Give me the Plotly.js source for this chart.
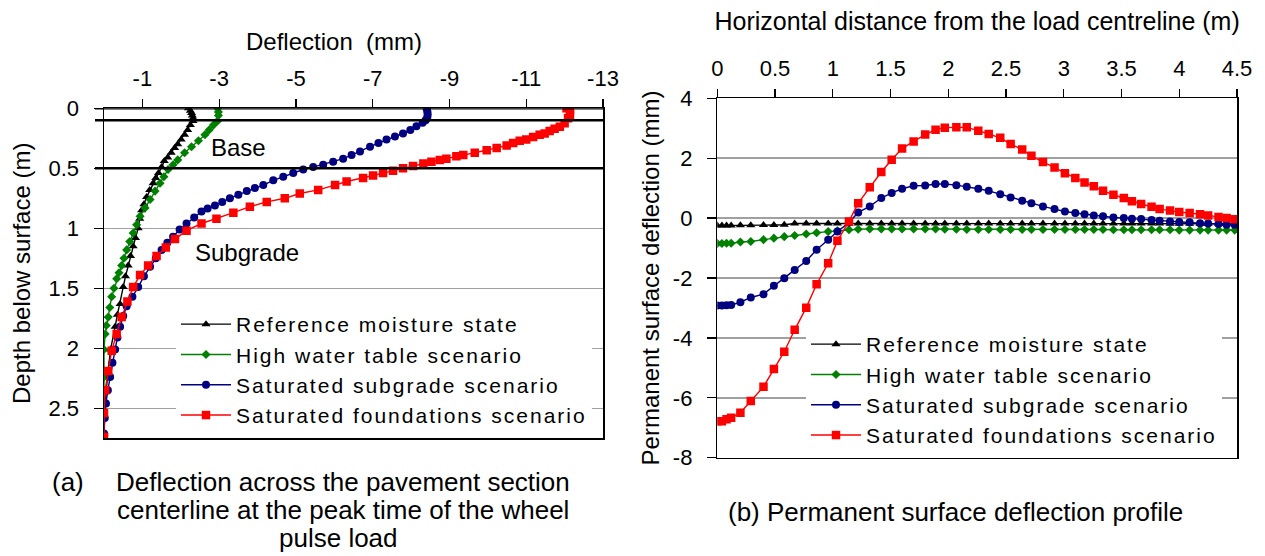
<!DOCTYPE html>
<html>
<head>
<meta charset="utf-8">
<script src="https://cdn.plot.ly/plotly-3.0.1.min.js"></script>
<style>
html,body{margin:0;padding:0;background:#fff;}
#chart{width:1265px;height:556px;}
text.legendtext{letter-spacing:2px !important;}
</style>
</head>
<body>
<div id="chart"></div>
<script>
// ---------- Series names ----------
const seriesNames = ["Reference moisture state", "High water table scenario", "Saturated subgrade scenario", "Saturated foundations scenario"];

// ---------- (a) Deflection vs depth ----------
const refDefl  = [-2.2,-2.25,-2.28,-2.3,-2.32,-2.32,-2.25,-2.18,-2.10,-2.01,-1.92,-1.84,-1.75,-1.66,-1.57,-1.50,-1.42,-1.35,-1.28,-1.19,-1.11,-1.04,-0.98,-0.93,-0.89,-0.82,-0.76,-0.69,-0.63,-0.56,-0.50,-0.42,-0.35,-0.29,-0.17,-0.09,-0.03,0];
const refDepth = [0,0.02,0.04,0.06,0.08,0.105,0.14,0.18,0.22,0.26,0.30,0.33,0.37,0.41,0.44,0.49,0.54,0.58,0.625,0.68,0.74,0.80,0.85,0.92,1.00,1.08,1.15,1.23,1.31,1.40,1.49,1.63,1.72,1.82,2.01,2.24,2.46,2.71];

const hwtDefl  = [-2.96,-2.98,-2.98,-2.96,-2.85,-2.74,-2.63,-2.46,-2.28,-2.10,-1.92,-1.80,-1.67,-1.56,-1.46,-1.33,-1.20,-1.07,-0.94,-0.85,-0.76,-0.67,-0.59,-0.52,-0.46,-0.39,-0.33,-0.26,-0.20,-0.15,-0.11,-0.06,-0.03,0,0,0,0];
const hwtDepth = [0,0.03,0.06,0.105,0.14,0.18,0.22,0.27,0.32,0.37,0.43,0.47,0.51,0.57,0.625,0.69,0.76,0.83,0.90,0.97,1.04,1.11,1.18,1.25,1.31,1.37,1.42,1.50,1.57,1.66,1.74,1.81,1.88,2.01,2.24,2.46,2.71];

const ssgDefl  = [-8.40,-8.42,-8.43,-8.43,-8.42,-8.38,-8.30,-8.14,-7.98,-7.79,-7.58,-7.36,-7.15,-6.93,-6.67,-6.45,-6.23,-5.97,-5.71,-5.45,-5.19,-4.93,-4.67,-4.41,-4.15,-3.93,-3.72,-3.50,-3.28,-3.08,-2.89,-2.70,-2.54,-2.35,-2.15,-1.97,-1.80,-1.65,-1.50,-1.35,-1.20,-1.04,-0.89,-0.74,-0.59,-0.50,-0.42,-0.35,-0.29,-0.22,-0.16,-0.10,-0.05,-0.02,0];
const ssgDepth = [0,0.02,0.04,0.06,0.08,0.10,0.12,0.15,0.18,0.21,0.235,0.26,0.29,0.32,0.36,0.39,0.42,0.445,0.47,0.49,0.51,0.54,0.57,0.60,0.64,0.665,0.69,0.72,0.75,0.78,0.81,0.835,0.86,0.91,0.96,1.01,1.07,1.12,1.18,1.25,1.32,1.40,1.49,1.57,1.65,1.73,1.82,1.91,2.01,2.12,2.24,2.35,2.46,2.58,2.71];

const sfdDefl  = [-12.05,-12.14,-12.14,-12.09,-12.0,-11.875,-11.74,-11.61,-11.48,-11.35,-11.18,-11.0,-10.83,-10.66,-10.49,-10.23,-9.97,-9.66,-9.36,-9.18,-8.92,-8.75,-8.53,-8.32,-8.05,-7.79,-7.53,-7.27,-7.01,-6.75,-6.32,-6.02,-5.58,-5.10,-4.71,-4.24,-3.80,-3.37,-2.93,-2.54,-2.15,-1.85,-1.61,-1.37,-1.15,-0.94,-0.76,-0.61,-0.46,-0.33,-0.20,-0.11,-0.03,0,0];
const sfdDepth = [0,0.014,0.056,0.083,0.125,0.153,0.17,0.19,0.21,0.22,0.24,0.26,0.27,0.29,0.31,0.33,0.35,0.37,0.39,0.40,0.42,0.43,0.445,0.46,0.48,0.50,0.52,0.54,0.56,0.58,0.61,0.64,0.68,0.71,0.75,0.78,0.82,0.87,0.92,0.96,1.02,1.09,1.16,1.23,1.31,1.39,1.49,1.61,1.74,1.88,2.02,2.19,2.35,2.54,2.74];

const leftTickVals = [-1,-3,-5,-7,-9,-11,-13];
const leftTickText = ["-1","-3","-5","-7","-9","-11","-13"];
const depthTickVals = [0,0.5,1,1.5,2,2.5];
const depthTickText = ["0","0.5","1","1.5","2","2.5"];
const layerDepths = [0,0.1,0.5];

// ---------- (b) Permanent surface deflection profile ----------
const xDist = [0,0.04,0.08,0.12,0.2,0.29,0.4,0.49,0.58,0.67,0.77,0.86,0.96,1.04,1.14,1.22,1.32,1.42,1.51,1.6,1.7,1.8,1.89,1.97,2.07,2.16,2.26,2.35,2.45,2.54,2.64,2.72,2.82,2.92,3.01,3.1,3.18,3.26,3.34,3.43,3.52,3.59,3.67,3.76,3.83,3.92,4.0,4.09,4.18,4.25,4.34,4.41,4.48];
const refPerm = [-0.25,-0.25,-0.25,-0.25,-0.24,-0.24,-0.23,-0.23,-0.22,-0.18,-0.18,-0.18,-0.18,-0.18,-0.18,-0.18,-0.18,-0.18,-0.18,-0.18,-0.18,-0.18,-0.18,-0.18,-0.18,-0.18,-0.18,-0.18,-0.18,-0.18,-0.18,-0.18,-0.18,-0.18,-0.18,-0.18,-0.18,-0.18,-0.18,-0.18,-0.18,-0.18,-0.18,-0.18,-0.18,-0.19,-0.19,-0.19,-0.19,-0.19,-0.19,-0.19,-0.19];
const hwtPerm = [-0.85,-0.85,-0.84,-0.84,-0.80,-0.78,-0.72,-0.67,-0.62,-0.58,-0.53,-0.49,-0.45,-0.42,-0.39,-0.37,-0.36,-0.36,-0.36,-0.36,-0.36,-0.36,-0.36,-0.37,-0.37,-0.38,-0.38,-0.38,-0.38,-0.38,-0.38,-0.38,-0.38,-0.38,-0.38,-0.38,-0.38,-0.38,-0.38,-0.39,-0.39,-0.39,-0.39,-0.39,-0.39,-0.39,-0.40,-0.40,-0.40,-0.40,-0.40,-0.40,-0.40];
const ssgPerm = [-2.92,-2.92,-2.91,-2.90,-2.81,-2.65,-2.54,-2.26,-2.01,-1.73,-1.43,-1.06,-0.72,-0.45,-0.15,0.19,0.39,0.67,0.84,0.98,1.08,1.09,1.14,1.14,1.10,1.05,0.98,0.91,0.80,0.69,0.58,0.50,0.39,0.30,0.22,0.17,0.13,0.09,0.06,0.02,0.0,-0.02,-0.03,-0.06,-0.09,-0.11,-0.13,-0.14,-0.17,-0.18,-0.20,-0.22,-0.22];
const sfdPerm = [-6.78,-6.78,-6.72,-6.67,-6.50,-6.11,-5.63,-5.04,-4.46,-3.73,-2.99,-2.21,-1.51,-0.76,-0.11,0.50,1.03,1.54,1.95,2.32,2.56,2.79,2.95,3.02,3.03,3.03,2.92,2.81,2.68,2.47,2.29,2.08,1.87,1.69,1.50,1.34,1.19,1.06,0.91,0.78,0.67,0.56,0.47,0.38,0.30,0.25,0.20,0.17,0.13,0.09,0.04,0.0,-0.04];

const rightTickVals = [0,0.5,1,1.5,2,2.5,3,3.5,4,4.5];
const rightTickText = ["0","0.5","1","1.5","2","2.5","3","3.5","4","4.5"];
const permTickVals = [-8,-6,-4,-2,0,2,4];
const permTickText = ["-8","-6","-4","-2","0","2","4"];

// ---------- styles ----------
const colors = ["#000000", "#008000", "#000080", "#ff0000"];
const symbols = ["triangle-up", "diamond", "circle", "square"];
const msizes = [8, 7, 8, 8.5];

const W = 1265, H = 556;
const fx = p => p / W;
const fy = p => 1 - p / H;
const FONT = "Liberation Sans, Arial, sans-serif";

function mk(x, y, i, xa, ya, leg) {
  return {
    x: x, y: y, name: seriesNames[i], type: "scatter", mode: "lines+markers",
    xaxis: xa, yaxis: ya, legend: leg,
    line: {color: colors[i], width: 1.4},
    marker: {color: colors[i], symbol: symbols[i], size: msizes[i], line: {width: 0}},
    hoverinfo: "x+y"
  };
}

const traces = [
  mk(refDefl, refDepth, 0, "x", "y", "legend"),
  mk(hwtDefl, hwtDepth, 1, "x", "y", "legend"),
  mk(ssgDefl, ssgDepth, 2, "x", "y", "legend"),
  mk(sfdDefl, sfdDepth, 3, "x", "y", "legend"),
  mk(xDist, refPerm, 0, "x2", "y2", "legend2"),
  mk(xDist, hwtPerm, 1, "x2", "y2", "legend2"),
  mk(xDist, ssgPerm, 2, "x2", "y2", "legend2"),
  mk(xDist, sfdPerm, 3, "x2", "y2", "legend2")
];

const tickFont = {family: FONT, size: 22, color: "#000"};
const titleFont = {family: FONT, size: 24, color: "#000"};
const NB = "\u00a0";

const shapes = layerDepths.map(d => ({
  type: "line", xref: "paper", yref: "y", x0: fx(95), x1: fx(605), y0: d, y1: d,
  line: {color: "#000", width: 2.5}, layer: "above"
}));

const layout = {
  width: W, height: H,
  margin: {l: 0, r: 0, t: 0, b: 0},
  paper_bgcolor: "#fff", plot_bgcolor: "#fff",
  font: {family: FONT, color: "#000"},
  showlegend: true,
  xaxis: {
    domain: [fx(104), fx(603)], range: [0, -13], side: "top", anchor: "y",
    tickmode: "array", tickvals: leftTickVals, ticktext: leftTickText,
    ticks: "outside", ticklen: 8, tickwidth: 1.3, tickcolor: "#000", ticklabelstandoff: 4,
    showline: true, linecolor: "#000", linewidth: 1.5, mirror: true,
    showgrid: false, zeroline: false, tickfont: tickFont
  },
  xaxis3: {
    overlaying: "x", range: [0, -13], side: "top", anchor: "y",
    tickmode: "array", tickvals: leftTickVals, ticks: "inside", ticklen: 8, tickwidth: 1.3, tickcolor: "#000",
    showticklabels: false, showline: false, showgrid: false, zeroline: false
  },
  yaxis: {
    domain: [fy(438.3), fy(108.3)], range: [2.75, 0], anchor: "x",
    tickmode: "array", tickvals: depthTickVals, ticktext: depthTickText,
    ticks: "outside", ticklen: 9, tickwidth: 1.3, tickcolor: "#000", ticklabelstandoff: 10,
    showline: true, linecolor: "#000", linewidth: 1.5, mirror: true,
    showgrid: true, gridcolor: "#a0a0a0", gridwidth: 1.5, zeroline: false, tickfont: tickFont,
    title: {text: "Depth below surface (m)", font: titleFont, standoff: 11}
  },
  xaxis2: {
    domain: [fx(717.3), fx(1237)], range: [0, 4.5], side: "top", anchor: "y2",
    tickmode: "array", tickvals: rightTickVals, ticktext: rightTickText,
    ticks: "outside", ticklen: 8, tickwidth: 1.3, tickcolor: "#000", ticklabelstandoff: 4,
    showline: true, linecolor: "#000", linewidth: 1.5, mirror: true,
    showgrid: false, zeroline: false, tickfont: tickFont,
    title: {text: "Horizontal distance from the load centreline (m)", font: {family: FONT, size: 25, color: "#000"}, standoff: 18}
  },
  xaxis4: {
    overlaying: "x2", range: [0, 4.5], side: "top", anchor: "y2",
    tickmode: "array", tickvals: rightTickVals, ticks: "inside", ticklen: 8, tickwidth: 1.3, tickcolor: "#000",
    showticklabels: false, showline: false, showgrid: false, zeroline: false
  },
  yaxis2: {
    domain: [fy(457.7), fy(98.3)], range: [-8, 4], anchor: "x2",
    tickmode: "array", tickvals: permTickVals, ticktext: permTickText,
    ticks: "outside", ticklen: 9, tickwidth: 1.3, tickcolor: "#000", ticklabelstandoff: 10,
    showline: true, linecolor: "#000", linewidth: 1.5, mirror: true,
    showgrid: true, gridcolor: "#a0a0a0", gridwidth: 1.5, zeroline: false, tickfont: tickFont,
    title: {text: "Permanent" + NB + "surface" + NB + "deflection" + NB + "(mm)", font: titleFont, standoff: 6}
  },
  legend: {
    x: fx(176), y: fy(304), xanchor: "left", yanchor: "top",
    bgcolor: "#fff", borderwidth: 0, itemwidth: 50, tracegroupgap: 0,
    font: {family: FONT, size: 21, color: "#000"}
  },
  legend2: {
    x: fx(806), y: fy(324), xanchor: "left", yanchor: "top",
    bgcolor: "#fff", borderwidth: 0, itemwidth: 50, tracegroupgap: 0,
    font: {family: FONT, size: 21, color: "#000"}
  },
  shapes: shapes,
  annotations: [
    {text: "Deflection" + NB + NB + "(mm)", xref: "paper", yref: "paper", x: fx(334), y: fy(42), xanchor: "center", yanchor: "middle", showarrow: false, font: titleFont},
    {text: "Base", xref: "paper", yref: "paper", x: fx(238), y: fy(147), xanchor: "center", yanchor: "middle", showarrow: false, font: {family: FONT, size: 24}},
    {text: "Subgrade", xref: "paper", yref: "paper", x: fx(247), y: fy(252), xanchor: "center", yanchor: "middle", showarrow: false, font: {family: FONT, size: 24}},
    {text: "(a)", xref: "paper", yref: "paper", x: fx(50), y: fy(482), xanchor: "left", yanchor: "middle", showarrow: false, font: {family: FONT, size: 26}},
    {text: "Deflection across the pavement section", xref: "paper", yref: "paper", x: fx(343), y: fy(482), xanchor: "center", yanchor: "middle", showarrow: false, font: {family: FONT, size: 26}},
    {text: "centerline at the peak time of the wheel", xref: "paper", yref: "paper", x: fx(343), y: fy(510), xanchor: "center", yanchor: "middle", showarrow: false, font: {family: FONT, size: 26}},
    {text: "pulse load", xref: "paper", yref: "paper", x: fx(338), y: fy(538), xanchor: "center", yanchor: "middle", showarrow: false, font: {family: FONT, size: 26}},
    {text: "(b) Permanent surface deflection profile", xref: "paper", yref: "paper", x: fx(955), y: fy(512), xanchor: "center", yanchor: "middle", showarrow: false, font: {family: FONT, size: 26}}
  ]
};

function spaceLegends(gd) {
  const groups = gd.querySelectorAll(".infolayer > g");
  groups.forEach(function (g) {
    const cls = g.getAttribute("class") || "";
    if (cls.indexOf("legend") === 0) {
      g.querySelectorAll("text").forEach(function (t) {
        t.style.setProperty("letter-spacing", "2px", "important");
        t.setAttribute("letter-spacing", "2");
      });
    }
  });
}

const gdEl = document.getElementById("chart");
Plotly.newPlot(gdEl, traces, layout, {displayModeBar: false, staticPlot: true}).then(function (gd) {
  spaceLegends(gd);
  setTimeout(function () { spaceLegends(gd); }, 50);
  setTimeout(function () { spaceLegends(gd); }, 300);
});
gdEl.on && gdEl.on("plotly_afterplot", function () { spaceLegends(gdEl); });
</script>
</body>
</html>
